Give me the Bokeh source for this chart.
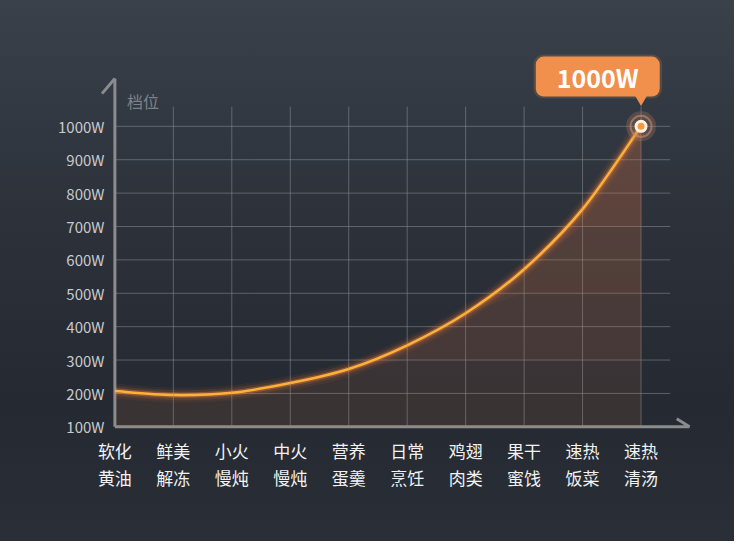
import numpy as np
from bokeh.embed import file_html
from bokeh.models import BoxAnnotation, FixedTicker, Label, LinearAxis, Range1d
from bokeh.plotting import figure
from bokeh.resources import INLINE

# categories (two lines each) and power curve values
categories = ["软化\n黄油", "鲜美\n解冻", "小火\n慢炖", "中火\n慢炖", "营养\n蛋羹",
              "日常\n烹饪", "鸡翅\n肉类", "果干\n蜜饯", "速热\n饭菜", "速热\n清汤"]
power = [207, 195, 202, 231, 273, 344, 440, 572, 752, 1000]
power_ticks = [100, 200, 300, 400, 500, 600, 700, 800, 900, 1000]
power_labels = ["100W", "200W", "300W", "400W", "500W", "600W", "700W", "800W", "900W", "1000W"]
axis_title = "档位"

FONT = "Noto Sans CJK SC"
xs = np.arange(len(categories), dtype=float)
ys = np.array(power, dtype=float)

p = figure(width=734, height=541, output_backend="svg", toolbar_location=None,
           x_range=Range1d(-0.4, 10.0), y_range=Range1d(80, 1290),
           x_axis_location=None, y_axis_location=None,
           min_border_left=91, min_border_right=35, min_border_top=29, min_border_bottom=108)
p.grid.visible = False
p.border_fill_alpha = 0
p.background_fill_alpha = 0
p.outline_line_color = None
p.styles = {"background": "linear-gradient(180deg, #3a414a 0%, #2c313a 40%, #242932 75%, #2a2f37 100%)"}

# axes (labels only, lines drawn as glyphs)
yax = LinearAxis(ticker=FixedTicker(ticks=power_ticks),
                 major_label_overrides={t: l for t, l in zip(power_ticks, power_labels)})
yax.axis_line_color = None
yax.major_tick_line_color = None
yax.minor_tick_line_color = None
yax.major_tick_out = 0
yax.major_tick_in = 0
yax.major_label_standoff = -13
yax.major_label_text_color = "#c8cacd"
yax.major_label_text_font = FONT
yax.major_label_text_font_size = "15px"
p.add_layout(yax, "left")

xax = LinearAxis(ticker=FixedTicker(ticks=list(range(len(categories)))),
                 major_label_overrides={i: c for i, c in enumerate(categories)})
xax.axis_line_color = None
xax.major_tick_line_color = None
xax.minor_tick_line_color = None
xax.major_tick_out = 0
xax.major_tick_in = 0
xax.major_label_standoff = 4
xax.major_label_text_color = "#f2f2f2"
xax.major_label_text_font = FONT
xax.major_label_text_font_size = "17px"
xax.major_label_text_line_height = 1.1
p.add_layout(xax, "below")

# grid
grid_top = 1059
p.segment(x0=0, x1=9.5, y0=power_ticks[1:], y1=power_ticks[1:], line_color="#8a8e94", line_alpha=0.55, line_width=1)
p.segment(x0=xs[1:], x1=xs[1:], y0=100, y1=grid_top, line_color="#8a8e94", line_alpha=0.55, line_width=1)

# axis lines with half arrow heads
axis_col = "#8b8c8e"
p.segment(x0=[0, 0], y0=[100, 100], x1=[0, 9.83], y1=[1143, 100], line_color=axis_col, line_width=3)
p.segment(x0=[0, 9.83], y0=[1143, 100], x1=[-0.22, 9.61], y1=[1098, 124], line_color=axis_col, line_width=3)

# filled area under the curve, denser near the top
p.varea(x=xs, y1=100, y2=ys, fill_color="#d9784a", fill_alpha=0.12)
for t in [300, 500, 700]:
    p.varea(x=xs, y1=np.minimum(ys, t), y2=ys, fill_color="#d9784a", fill_alpha=0.07)

# smooth curve (Catmull-Rom -> bezier)
pad = np.concatenate([[ys[0]], ys, [ys[-1]]])
padx = np.concatenate([[xs[0]], xs, [xs[-1]]])
x0, y0 = xs[:-1], ys[:-1]
x1, y1 = xs[1:], ys[1:]
cx0 = x0 + (padx[2:-1] - padx[:-3]) / 6
cy0 = y0 + (pad[2:-1] - pad[:-3]) / 6
cx1 = x1 - (padx[3:] - padx[1:-2]) / 6
cy1 = y1 - (pad[3:] - pad[1:-2]) / 6
for w, a, c in [(15, 0.07, "#ff7030"), (10, 0.12, "#ff8038"), (5.5, 0.3, "#ff943c"), (2.5, 1.0, "#ffb03a")]:
    p.bezier(x0=x0, y0=y0, x1=x1, y1=y1, cx0=cx0, cy0=cy0, cx1=cx1, cy1=cy1, line_color=c, line_alpha=a, line_width=w)

# end point marker
p.scatter(x=[xs[-1]], y=[ys[-1]], size=30, fill_color="#b07a60", fill_alpha=0.3, line_color=None)
p.scatter(x=[xs[-1]], y=[ys[-1]], size=21, fill_color=None, line_color="#c89070", line_alpha=0.6, line_width=2)
p.scatter(x=[xs[-1]], y=[ys[-1]], size=13, fill_color="#fff3e6", line_color=None)
p.scatter(x=[xs[-1]], y=[ys[-1]], size=7, fill_color="#f79a3e", line_color=None)

# callout
p.add_layout(BoxAnnotation(left=7.16, right=9.36, bottom=1083, top=1215, fill_color="#f0904c", fill_alpha=0.18,
                           line_color=None, border_radius=10))
p.add_layout(BoxAnnotation(left=7.20, right=9.32, bottom=1089, top=1209, fill_color="#f0904c", fill_alpha=1.0,
                           line_color=None, border_radius=8))
p.scatter(x=[xs[-1]], y=[1083], marker="inverted_triangle", size=13, fill_color="#f0904c", line_color=None)
p.add_layout(Label(x=8.26, y=1149, text=power_labels[-1], text_align="center", text_baseline="middle",
                   text_color="white", text_font=FONT, text_font_size="25px", text_font_style="bold"))

# axis title
p.add_layout(Label(x=0.48, y=1077, text=axis_title, text_align="center", text_baseline="middle",
                   text_color="#7d828a", text_font=FONT, text_font_size="16px"))

open("out.html", "w").write(file_html(p, INLINE))
